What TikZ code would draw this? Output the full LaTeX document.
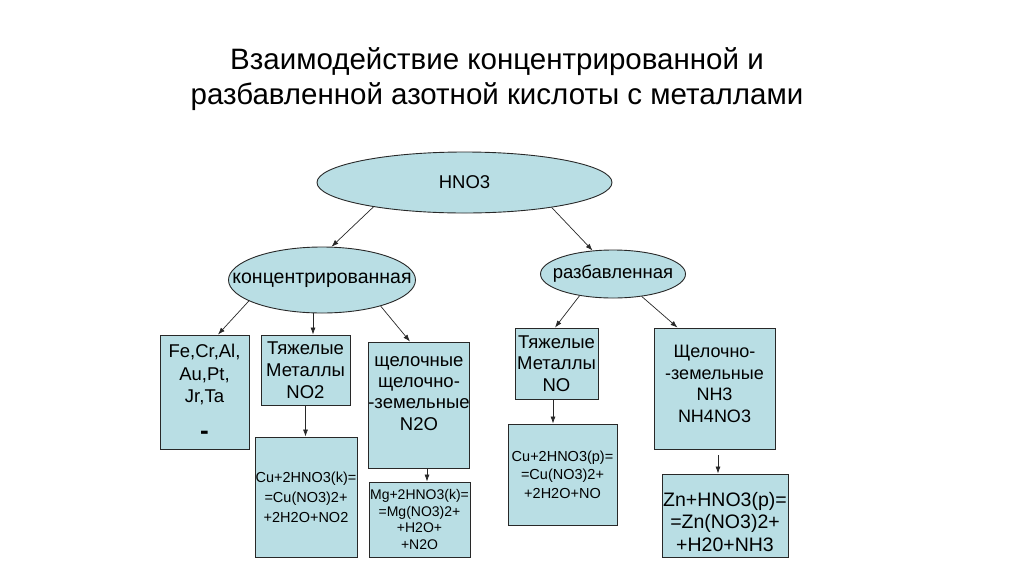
\documentclass[tikz,border=0pt]{standalone}
\usepackage{fontspec}
\setmainfont{Liberation Sans}
\usetikzlibrary{shapes.geometric,arrows.meta}
\definecolor{fillb}{RGB}{185,222,228}
\definecolor{edge}{RGB}{40,40,40}
\begin{document}
\begin{tikzpicture}[x=1pt,y=-1pt,
  ell/.style={ellipse,draw=edge,fill=fillb,line width=0.9pt,inner sep=0pt},
  box/.style={rectangle,draw=edge,fill=fillb,line width=0.9pt,inner sep=0pt,align=center},
  arr/.style={-{Latex[length=7pt,width=5pt]},line width=0.7pt,draw=edge},
  ttl/.style={align=center,font=\fontsize{29.5}{35}\selectfont}]
\useasboundingbox (0,0) rectangle (1024,574);
\fill[white] (0,0) rectangle (1024,574);
\node[ttl] (title) at (497,79) {Взаимодействие концентрированной и\\разбавленной азотной кислоты с металлами};
\node[ell,minimum width=295,minimum height=61,font=\fontsize{18.5}{21}\selectfont] (hno) at (464.5,182.5) {\makebox[0pt]{HNO3}};
\node[ell,minimum width=187,minimum height=66,font=\fontsize{19.5}{21}\selectfont] (konc) at (322,280) {\makebox[0pt]{концентрированная}};
\node[ell,minimum width=145,minimum height=48,font=\fontsize{18.5}{21}\selectfont] (razb) at (613,274) {\makebox[0pt]{разбавленная}};
\node[box,minimum width=89,minimum height=114,font=\fontsize{18.5}{22.5}\selectfont] (fe) at (204.5,392) {Fe,Cr,Al,\\Au,Pt,\\Jr,Ta\\[14pt]{\bfseries\fontsize{26}{26}\selectfont -}};
\node[box,minimum width=89,minimum height=70,font=\fontsize{18.5}{21.8}\selectfont] (t1) at (305.5,370) {Тяжелые\\Металлы\\NO2};
\node[box,minimum width=102,minimum height=120,font=\fontsize{14.5}{20}\selectfont] (cu1) at (306,497) {Cu+2HNO3(k)=\\=Cu(NO3)2+\\+2H2O+NO2};
\node[box,minimum width=100,minimum height=126,font=\fontsize{18.5}{21.3}\selectfont] (shch) at (419,405) {щелочные\\щелочно-\\-земельные\\N2O\\[2pt]\mbox{}};
\node[box,minimum width=101,minimum height=75,font=\fontsize{14}{16.5}\selectfont] (mg) at (419.5,519.5) {Mg+2HNO3(k)=\\=Mg(NO3)2+\\+H2O+\\+N2O};
\node[box,minimum width=83,minimum height=71,font=\fontsize{18.5}{21.5}\selectfont] (tno) at (556.5,363.5) {Тяжелые\\Металлы\\NO};
\node[box,minimum width=109,minimum height=101,font=\fontsize{14.5}{18.5}\selectfont] (cup) at (562.5,474.5) {Cu+2HNO3(p)=\\=Cu(NO3)2+\\+2H2O+NO};
\node[box,minimum width=121,minimum height=121,font=\fontsize{18}{21.5}\selectfont] (sh2) at (714.5,388.5) {Щелочно-\\-земельные\\NH3\\NH4NO3\\[-12pt]\mbox{}};
\node[box,minimum width=126,minimum height=83] (zn) at (725,515.5) {};
\node[align=center,inner sep=0pt,font=\fontsize{19.5}{22.5}\selectfont] (zntext) at (725,522) {Zn+HNO3(p)=\\=Zn(NO3)2+\\+H20+NH3};
\draw[arr] (hno.195) -- (konc.74);
\draw[arr] (hno.344) -- (razb.131);
\draw[arr] (konc.196) -- ([xshift=13.5]fe.north);
\draw[arr] ([xshift=7.5]t1.north |- konc.south) -- ([xshift=7.5]t1.north);
\draw[arr] (konc.336) -- ([xshift=-9]shch.north);
\draw[arr] (razb.213) -- ([xshift=-1.5]tno.north);
\draw[arr] (razb.322) -- ([xshift=-37]sh2.north);
\draw[arr] (t1.south) -- (t1.south |- cu1.north);
\draw[arr] ([xshift=8]shch.south) -- ([xshift=8]shch.south |- mg.north);
\draw[arr] ([xshift=-3.5]tno.south) -- ([xshift=-3.5]tno.south |- cup.north);
\draw[arr] ([xshift=3.5,yshift=-6]sh2.south) -- ([xshift=3.5]sh2.south |- zn.north);
\end{tikzpicture}
\end{document}
